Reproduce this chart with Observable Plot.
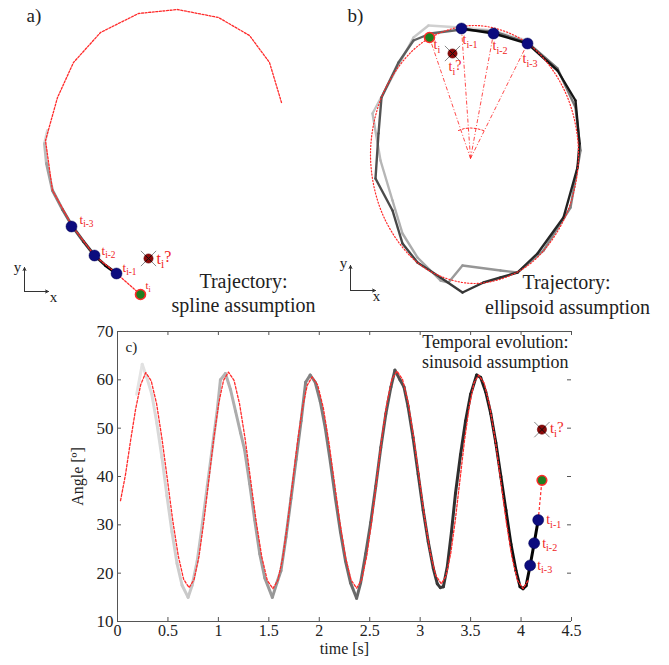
<!DOCTYPE html>
<html><head><meta charset="utf-8">
<script src="https://cdn.jsdelivr.net/npm/d3@7"></script>
<script src="https://cdn.jsdelivr.net/npm/@observablehq/plot@0.6"></script>
<style>
body{margin:0;background:#fff;}
#fig{position:relative;width:669px;height:665px;background:#fff;}
#fig svg{position:absolute;overflow:visible;}
#fig svg text{font-family:"Liberation Serif","Times New Roman",serif;font-variant:normal;}
</style></head><body><div id="fig"></div>
<script>
// ---------------- Panel a: spline trajectory (units, y up, origin at axis icon) ----------------
const aSplineX = [257,245,225,194,153,114,76,49,33,21,28,48,70,92,116];
const aSplineY = [191,231,258,276,284,280,261,231,196,153,103,67,38,20,-1];
const aTrajX = [23,20,22,28,38,48,59,70,81,92];
const aTrajY = [163,150,130,103,84,67,52,38,28,20];
const aPointX = [47,70,92,116,124];
const aPointY = [67,38,20,-1,35];
const aPointLabel = ["t|i-3","t|i-2","t|i-1","t|i","t|i|?"];
const aTitle = ["a)"];
const aCaption = ["Trajectory:","spline assumption"];

// ---------------- Panel b: ellipsoid trajectory ----------------
const bTrajX = [177,143,110,78,63,22,30,42,52,67,90,98,112,150,167,193,220,230,225,207,177,
                143,111,80,63,48,31,28,25,42,52,67,90,112,133,150,167,187,213,227,229,225,207,177,143,111];
const bTrajY = [250,260,263,265,253,177,130,90,57,33,10,8,25,20,18,40,83,140,183,222,248,
                259,261,257,250,228,193,157,112,80,47,28,13,-2,8,13,18,37,73,123,147,190,220,247,257,262];
const bEllipseX = [228,214,176,124,72,34,20,34,72,124,176,214];
const bEllipseY = [136,200,248,265,248,200,136,72,24,7,24,72];
const bCenterX = 120, bCenterY = 132;
const bArcX = [108,114,120,126,133];
const bArcY = [160,162,162.5,162,160];
const bPointX = [177,143,111,79,102];
const bPointY = [247,257,262,253,237];
const bPointLabel = ["t|i-3","t|i-2","t|i-1","t|i","t|i|?"];
const bTitle = ["b)"];
const bCaption = ["Trajectory:","ellipsoid assumption"];

// ---------------- Panel c: temporal evolution ----------------
const cMeasT = [0.19,0.245,0.29,0.34,0.39,0.44,0.49,0.54,0.59,0.64,0.70,
  0.74,0.79,0.84,0.89,0.94,0.99,1.02,1.07,
  1.12,1.17,1.22,1.26,1.31,1.36,1.41,1.46,1.535,
  1.58,1.62,1.67,1.72,1.77,1.82,1.865,1.91,
  1.96,2.01,2.06,2.11,2.16,2.21,2.26,2.31,2.37,
  2.41,2.46,2.51,2.56,2.61,2.66,2.71,2.75,
  2.80,2.84,2.88,2.93,2.98,3.03,3.08,3.13,3.17,3.20,3.23,
  3.27,3.31,3.35,3.40,3.45,3.50,3.56,
  3.60,3.65,3.70,3.75,3.80,3.85,3.90,3.95,3.99,4.02,4.05,
  4.09,4.13,4.17];
const cMeasA = [57,63.2,60.5,57,51,44,36,28.5,22,17.5,15,
  17.5,22.5,30,38,46,54,60,61.3,
  58,53.5,49,45.5,38.5,31,24,19,15,
  18,20.5,27.5,35.5,43.5,51.5,59.5,61,
  59.5,55.5,50,43,35.5,28.5,22.5,18,14.8,
  18,24,30.5,38,46,53,58.5,62,
  60,58.5,54.5,48,40.5,33,26.5,21,17.8,17,17.2,
  21.5,28.5,36.5,44.5,51.5,57,61,
  60.5,57.5,53,47,40,33,26,20.5,17.2,16.8,17.4,
  21.6,26.2,31.0];
const cFitT = [0.03,0.08,0.13,0.18,0.23,0.28,
  0.334,0.388,0.441,0.495,0.549,0.603,0.656,0.71,
  0.759,0.808,0.856,0.905,0.954,1.003,1.051,1.10,
  1.155,1.21,1.265,1.32,1.375,1.43,1.485,1.54,
  1.589,1.638,1.686,1.735,1.784,1.833,1.881,1.93,
  1.985,2.04,2.095,2.15,2.205,2.26,2.315,2.37,
  2.42,2.47,2.52,2.57,2.62,2.67,2.72,2.77,
  2.825,2.88,2.935,2.99,3.045,3.10,3.155,3.21,
  3.256,3.303,3.349,3.395,3.441,3.488,3.534,3.58,
  3.635,3.69,3.745,3.80,3.855,3.91,3.965,4.02,4.07];
const cFitA = [35,40.5,47.5,54,59,61.5,
  59.8,55.0,47.8,39.3,30.7,23.5,18.7,17.0,
  18.7,23.5,30.8,39.3,47.8,55.1,59.9,61.6,
  59.9,55.0,47.8,39.2,30.6,23.4,18.5,16.8,
  18.5,23.2,30.3,38.7,47.1,54.2,58.9,60.6,
  58.9,54.2,47.1,38.8,30.4,23.3,18.6,16.9,
  18.6,23.5,30.8,39.4,48.0,55.2,60.1,61.8,
  60.1,55.4,48.2,39.8,31.4,24.2,19.5,17.8,
  19.4,24.1,31.1,39.4,47.7,54.7,59.4,61.0,
  59.3,54.5,47.4,38.9,30.4,23.3,18.5,16.8,18.5];
const cPointT = [4.09,4.13,4.17,4.207,4.207];
const cPointA = [21.6,26.2,31.0,39.2,49.7];
const cPointLabel = ["t|i-3","t|i-2","t|i-1","","t|i|?"];
const xTicks = [0,0.5,1,1.5,2,2.5,3,3.5,4,4.5];
const xTickLabels = ["0","0.5","1","1.5","2","2.5","3","3.5","4","4.5"];
const yTicks = [10,20,30,40,50,60,70];
const yTickLabels = ["10","20","30","40","50","60","70"];
const cTitle = ["c)"];
const cCaption = ["Temporal evolution:","sinusoid assumption"];
const cXLabel = "time [s]";
const cYLabel = "Angle [º]";

// icon (axes glyph) in panel units
const aIconX1=[0,0], aIconY1=[2,2], aIconX2=[0,24], aIconY2=[26,2];
const bIconX1=[0,0], bIconY1=[0,0], bIconX2=[0,25], bIconY2=[25,0];
const iconLetters = ["y","x"];

// ---------------- helpers ----------------
const FONT = '"Liberation Serif","Times New Roman",serif';
const RED = "#ff2a2a", LRED = "#f02424", BLUE = "#0c0c7e", GREEN = "#1f7f1f", DRED = "#8c0808";
const rows = (xs, ys) => xs.map((x, i) => ({x, y: ys[i], i}));
const segs = (xs, ys) => xs.slice(0, -1).map((x, i) => ({x1: x, y1: ys[i], x2: xs[i + 1], y2: ys[i + 1], k: i}));
function lbl(xs, ys, labels, i, dx, dy, size) {
  return Plot.text([{x: xs[i], y: ys[i]}], {x: "x", y: "y", text: () => labels[i], dx, dy,
    fontSize: size, fill: LRED, textAnchor: "start", lineAnchor: "middle", fontFamily: FONT});
}
function markers(xs, ys, rBlue, rGreen) {
  const p = rows(xs, ys);
  return [
    Plot.dot(p.slice(0, 3), {x: "x", y: "y", r: rBlue, fill: BLUE, stroke: "#000050", strokeWidth: 0.5}),
    Plot.dot(p.slice(3, 4), {x: "x", y: "y", r: rGreen, fill: GREEN, stroke: RED, strokeWidth: 1.6}),
    Plot.dot(p.slice(4, 5), {x: "x", y: "y", r: 7, symbol: "times", stroke: "#888", strokeWidth: 1}),
    Plot.dot(p.slice(4, 5), {x: "x", y: "y", r: 4.6, fill: DRED, stroke: "#600", strokeWidth: 0.6}),
    Plot.dot(p.slice(4, 5), {x: "x", y: "y", r: 3, symbol: "times", stroke: "#111", strokeWidth: 1})
  ];
}
function subscripts(svg) {
  d3.select(svg).selectAll("text").each(function () {
    const s = this.textContent;
    if (!s.includes("|")) return;
    const parts = s.split("|");
    const el = d3.select(this); el.text(null);
    el.append("tspan").text(parts[0]);
    el.append("tspan").attr("font-size", "72%").attr("dy", "0.35em").text(parts[1]);
    if (parts[2]) el.append("tspan").attr("dy", "-0.35em").text(parts[2]);
  });
}
const fig = document.getElementById("fig");
function place(svg, left, top) { svg.style.left = left + "px"; svg.style.top = top + "px"; fig.appendChild(svg); subscripts(svg); }
const iconMarks = (x1, y1, x2, y2, lx, ly) => [
  Plot.arrow(x1.map((v, i) => ({x1: v, y1: y1[i], x2: x2[i], y2: y2[i]})),
    {x1: "x1", y1: "y1", x2: "x2", y2: "y2", stroke: "#333", strokeWidth: 1, headLength: 5, headAngle: 50}),
  Plot.text([0, 1].map(i => ({x: lx[i], y: ly[i], t: iconLetters[i]})),
    {x: "x", y: "y", text: "t", fontSize: 15, fill: "#222", fontFamily: FONT})
];
const cap = (txt, dx, dy, size, anchor = "middle", frame = "top-left") =>
  Plot.text([txt], {text: d => d, frameAnchor: frame, dx, dy, textAnchor: anchor, lineAnchor: "bottom", fontSize: size, fill: "#222", fontFamily: FONT});

// ---------------- Panel a ----------------
const pa = Plot.plot({
  width: 330, height: 320, margin: 0,
  x: {domain: [-24, 306], axis: null}, y: {domain: [-27, 293], axis: null},
  color: {type: "linear", domain: [0, aTrajX.length - 2], range: ["#d6d6d6", "#000"]},
  style: {fontFamily: FONT, background: "transparent", overflow: "visible"},
  marks: [
    Plot.link(segs(aTrajX, aTrajY), {x1: "x1", y1: "y1", x2: "x2", y2: "y2", stroke: "k", strokeWidth: 3, strokeLinecap: "round"}),
    Plot.line(rows(aSplineX, aSplineY), {x: "x", y: "y", stroke: RED, strokeWidth: 1.3, strokeDasharray: "2,1.6"}),
    ...markers(aPointX, aPointY, 5.5, 5),
    lbl(aPointX, aPointY, aPointLabel, 0, 8, -7, 13),
    lbl(aPointX, aPointY, aPointLabel, 1, 7, -5, 13),
    lbl(aPointX, aPointY, aPointLabel, 2, 6, -6, 13),
    lbl(aPointX, aPointY, aPointLabel, 3, 5, -9, 11),
    lbl(aPointX, aPointY, aPointLabel, 4, 8, 0, 16),
    ...iconMarks(aIconX1, aIconY1, aIconX2, aIconY2, [-7, 29], [26, -4]),
    cap(aTitle[0], 26, 21, 19, "start"),
    cap(aCaption[0], 243, 287, 20),
    cap(aCaption[1], 243, 311, 20)
  ]
});
place(pa, 0, 0);

// ---------------- Panel b ----------------
const bPts = rows(bPointX, bPointY);
const pb = Plot.plot({
  width: 339, height: 320, margin: 0,
  x: {domain: [-20, 319], axis: null}, y: {domain: [-30, 290], axis: null},
  color: {type: "pow", exponent: 0.8, domain: [0, bTrajX.length - 2], range: ["#e2e2e2", "#0a0a0a"]},
  style: {fontFamily: FONT, background: "transparent", overflow: "visible"},
  marks: [
    Plot.link(segs(bTrajX, bTrajY), {x1: "x1", y1: "y1", x2: "x2", y2: "y2", stroke: "k", strokeWidth: 2.4, strokeLinecap: "round", strokeLinejoin: "round"}),
    Plot.line(rows(bEllipseX, bEllipseY), {x: "x", y: "y", curve: "catmull-rom-closed", stroke: RED, strokeWidth: 1.2, strokeDasharray: "1.2,2"}),
    Plot.link(bPts.slice(0, 4), {x1: () => bCenterX, y1: () => bCenterY, x2: "x", y2: "y", stroke: RED, strokeOpacity: 0.85, strokeWidth: 1, strokeDasharray: "4,2,1,2"}),
    Plot.line(rows(bArcX, bArcY), {x: "x", y: "y", stroke: RED, strokeWidth: 1, strokeDasharray: "2,2"}),
    ...markers(bPointX, bPointY, 5.5, 5),
    lbl(bPointX, bPointY, bPointLabel, 0, -5, 15, 14),
    lbl(bPointX, bPointY, bPointLabel, 1, -1, 12, 14),
    lbl(bPointX, bPointY, bPointLabel, 2, 1, 11, 14),
    lbl(bPointX, bPointY, bPointLabel, 3, 4, 7, 14),
    lbl(bPointX, bPointY, bPointLabel, 4, -4, 13, 14),
    ...iconMarks(bIconX1, bIconY1, bIconX2, bIconY2, [-7, 26], [27, -6]),
    cap(bTitle[0], 17, 21, 19, "start"),
    cap(bCaption[0], 236, 288, 20),
    cap(bCaption[1], 237, 313, 20)
  ]
});
place(pb, 330, 0);

// ---------------- Panel c ----------------
const cPts = rows(cPointT, cPointA);
const pc = Plot.plot({
  width: 669, height: 345, marginLeft: 117, marginRight: 98, marginTop: 11, marginBottom: 44,
  x: {domain: [0, 4.5]}, y: {domain: [10, 70]},
  color: {type: "linear", domain: [0.19, 4.17], range: ["#e4e4e4", "#000"]},
  style: {fontFamily: FONT, fontSize: "16px", background: "transparent", color: "#222", overflow: "visible"},
  marks: [
    Plot.ruleY([10, 70], {stroke: "#555"}),
    Plot.ruleX([0], {stroke: "#555"}),
    Plot.tickX(xTicks, {x: d => d, insetTop: 286, stroke: "#555"}),
    Plot.tickX(xTicks, {x: d => d, insetBottom: 286, stroke: "#555"}),
    Plot.tickY(yTicks, {y: d => d, insetRight: 450, stroke: "#555"}),
    Plot.tickY(yTicks, {y: d => d, insetLeft: 450, stroke: "#555"}),
    Plot.axisX({ticks: xTicks, tickSize: 0, tickPadding: 3, tickFormat: d => xTickLabels[xTicks.indexOf(d)], label: null, fontSize: 16, fontFamily: FONT, fontVariant: "normal", fill: "#222"}),
    Plot.axisY({ticks: yTicks, tickSize: 0, tickPadding: 4, tickFormat: d => yTickLabels[yTicks.indexOf(d)], label: null, fontSize: 17, fontFamily: FONT, fontVariant: "normal", fill: "#222"}),
    Plot.text([cXLabel], {text: d => d, frameAnchor: "bottom", dy: 32, fontSize: 16, fill: "#222", fontFamily: FONT}),
    Plot.text([cYLabel], {text: d => d, frameAnchor: "left", dx: -40, rotate: -90, textAnchor: "middle", fontSize: 16, fill: "#222", fontFamily: FONT}),
    Plot.link(segs(cMeasT, cMeasA), {x1: "x1", y1: "y1", x2: "x2", y2: "y2", stroke: d => cMeasT[d.k], strokeWidth: 3, strokeLinecap: "round"}),
    Plot.line(rows(cFitT, cFitA), {x: "x", y: "y", stroke: RED, strokeWidth: 1.3, strokeDasharray: "2.5,1.8"}),
    Plot.link([{a: cPts[2], b: cPts[3]}], {x1: d => d.a.x, y1: d => d.a.y, x2: d => d.b.x, y2: d => d.b.y, stroke: RED, strokeWidth: 1.2, strokeDasharray: "3,2"}),
    ...markers(cPointT, cPointA, 5.5, 4.8),
    lbl(cPointT, cPointA, cPointLabel, 0, 7, 0, 14),
    lbl(cPointT, cPointA, cPointLabel, 1, 8, 0, 14),
    lbl(cPointT, cPointA, cPointLabel, 2, 8, 0, 14),
    lbl(cPointT, cPointA, cPointLabel, 4, 8, -1, 15),
    cap(cTitle[0], 8, 20, 15, "start"),
    cap(cCaption[0], -3, 16, 18, "end", "top-right"),
    cap(cCaption[1], -3, 36, 18, "end", "top-right")
  ]
});
place(pc, 0, 320);
</script></body></html>
